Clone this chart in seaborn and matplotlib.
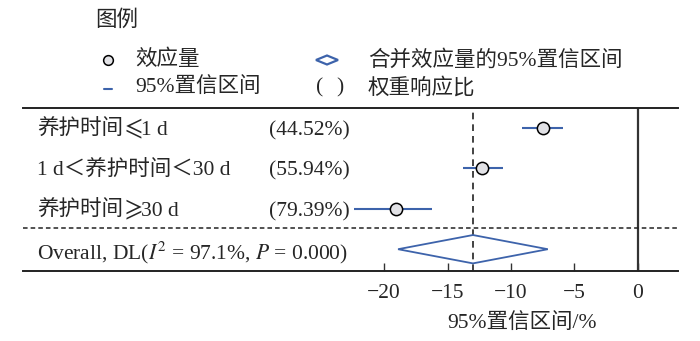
import matplotlib
matplotlib.use("Agg")
import matplotlib.pyplot as plt
import matplotlib.transforms as mtrans
import seaborn as sns
import pandas as pd

# ---- data ----
group_parts = [["养护时间", r"$\leqslant$", "1 d"],
               ["1 d＜养护时间＜30 d"],
               ["养护时间", r"$\geqslant$", "30 d"]]
weights = ["(44.52%)", "(55.94%)", "(79.39%)"]
effect = [-7.5, -12.3, -19.1]
ci_low = [-9.1, -13.8, -22.4]
ci_high = [-5.9, -10.6, -16.2]
overall_est = -13.0
overall_low = -18.9
overall_high = -7.1
overall_label = r"Overall, DL($I^2$ = 97.1%, $P$ = 0.000)"
xticks = [-20, -15, -10, -5, 0]
xlabel = "95%置信区间/%"
legend_title = "图例"
legend_labels = ["效应量", "95%置信区间", "合并效应量的95%置信区间", "权重响应比"]

sns.set_theme(style="white")
plt.rcParams["font.family"] = ["Liberation Serif", "Noto Sans CJK SC"]
plt.rcParams["mathtext.fontset"] = "stix"
plt.rcParams["axes.unicode_minus"] = True

BLUE = "#3d63ab"
FS = 15.5
FILL = "#e2e2e6"

W, H = 700, 341
fig = plt.figure(figsize=(W / 100, H / 100), dpi=100)

ax_l, ax_r, ax_t, ax_b = 23, 678, 108, 271
ax = fig.add_axes([ax_l / W, 1 - ax_b / H, (ax_r - ax_l) / W, (ax_b - ax_t) / H])

df = pd.DataFrame({"effect": effect, "low": ci_low, "high": ci_high,
                   "row": list(range(len(effect)))})

# CI lines
ax.hlines(df["row"], df["low"], df["high"], color=BLUE, lw=1.5, zorder=2)
# effect points
sns.scatterplot(data=df, x="effect", y="row", ax=ax, s=78, color=FILL,
                edgecolor="black", linewidth=1.1, zorder=3, legend=False)

orow = len(effect)
dh = 0.35
ax.fill([overall_low, overall_est, overall_high, overall_est],
        [orow, orow - dh, orow, orow + dh], facecolor="none", edgecolor=BLUE, lw=1.3, zorder=3)

ax.axvline(overall_est, color="#222222", lw=1.2, ls=(0, (4, 3)), zorder=1)
ax.axvline(0, color="#333333", lw=1.6, zorder=1)
ax.axhline(orow - 0.52, color="#222222", lw=1.1, ls=(0, (3, 2)), zorder=1)

ax.set_xlim(-48.46, 3.16)
ax.set_ylim(orow + 0.538, -0.486)
ax.set_yticks([])
ax.set_xticks(xticks)
ax.set_xticklabels([f"{t}".replace("-", "\u2212") for t in xticks])
ax.tick_params(axis="x", direction="in", length=6, width=1.0, color="#333333",
               labelsize=FS, pad=9, bottom=True)
for s in ["left", "right"]:
    ax.spines[s].set_visible(False)
for s in ["top", "bottom"]:
    ax.spines[s].set_visible(True)
    ax.spines[s].set_color("#222222")
    ax.spines[s].set_linewidth(1.4)
ax.set_xlabel("")
ax.set_ylabel("")
ax.grid(False)

tr = mtrans.blended_transform_factory(ax.transAxes, ax.transData)
xl = (37 - ax_l) / (ax_r - ax_l)
xr = (350 - ax_l) / (ax_r - ax_l)
renderer = fig.canvas.get_renderer()
row_base = mtrans.offset_copy(tr, fig=fig, x=0, y=-5.3, units="points")
over_base = mtrans.offset_copy(tr, fig=fig, x=0, y=-7.0, units="points")


def chain_text(x, y, parts):
    t = row_base
    for p in parts:
        size = 19 if p.startswith("$") else FS
        txt = ax.text(x, y, p, transform=t, ha="left", va="baseline", fontsize=size)
        bb = txt.get_window_extent(renderer)
        t = mtrans.offset_copy(txt.get_transform(), fig=fig, x=bb.width - 2, units="dots")


for i, (parts, w) in enumerate(zip(group_parts, weights)):
    chain_text(xl, i, parts)
    ax.text(xr, i, w, transform=row_base, ha="right", va="baseline", fontsize=FS)
ax.text(xl, orow, overall_label, transform=over_base, ha="left", va="baseline", fontsize=FS)

fig.text(522 / W, 1 - 324 / H, xlabel, ha="center", va="center", fontsize=FS)

# ---- legend area ----
lg = fig.add_axes([0, 1 - ax_t / H, 1, ax_t / H])
lg.set_xlim(0, W)
lg.set_ylim(ax_t, 0)
lg.axis("off")
lg.text(95, 20, legend_title, ha="left", va="center", fontsize=FS)
lg.plot([108], [60], marker="o", ms=7, mfc=FILL, mec="black", mew=1.1, ls="none")
lg.text(135, 60, legend_labels[0], ha="left", va="center", fontsize=FS)
lg.plot([104, 112], [89, 89], color=BLUE, lw=1.5)
lg.text(135, 88, legend_labels[1], ha="left", va="center", fontsize=FS)
lg.fill([316, 327, 338, 327], [60, 55.5, 60, 64.5], facecolor="none", edgecolor=BLUE, lw=1.6)
lg.text(368, 60, legend_labels[2], ha="left", va="center", fontsize=FS)
lg.text(320, 88, "(", ha="center", va="center", fontsize=FS)
lg.text(340, 88, ")", ha="center", va="center", fontsize=FS)
lg.text(368, 88, legend_labels[3], ha="left", va="center", fontsize=FS)

fig.savefig("out.png", dpi=100)
